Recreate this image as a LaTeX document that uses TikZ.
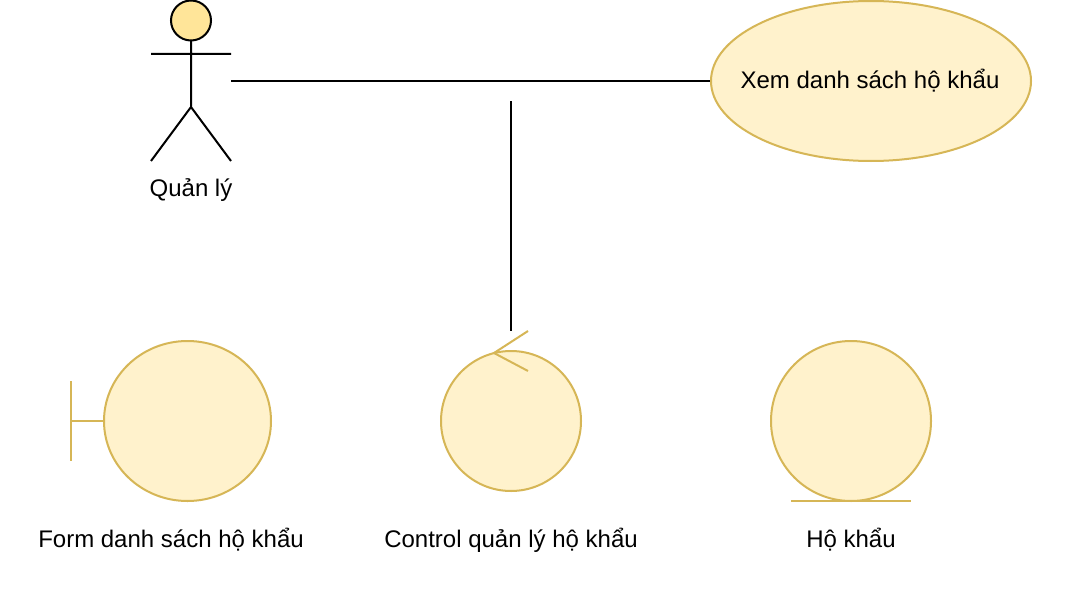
\documentclass[tikz,border=0pt]{standalone}
\usetikzlibrary{shapes.geometric}
\usepackage{fontspec}
\setmainfont{Liberation Sans}
\definecolor{ufill}{HTML}{FFF2CC}
\definecolor{uline}{HTML}{D6B656}
\definecolor{afill}{HTML}{FFE599}
\tikzset{x=0.75pt,y=-0.75pt,
 shapeln/.style={draw=uline,fill=ufill,line width=1.5pt},
 goldln/.style={draw=uline,line width=1.5pt},
 blackln/.style={draw=black,line width=1.5pt},
 lbl/.style={font=\fontsize{18pt}{21pt}\selectfont,inner sep=0pt,text=black}}
\begin{document}
\begin{tikzpicture}
\useasboundingbox (0,0) rectangle (1070,592);
\fill[white] (0,0) rectangle (1070,592);
% actor
\draw[blackln] (191,40.5) -- (191,107) (151,54) -- (231,54) (151,161) -- (191,107) -- (231,161);
\draw[blackln,fill=afill] (191,20.5) circle[radius=20];
\node[lbl] (actorlbl) at (191,190) {Quản lý};
% use case
\node[shapeln,ellipse,minimum width=240pt,minimum height=120pt,inner sep=0pt] (uc) at (871,81) {};
\node[lbl] (uclbl) at (870,81) {Xem danh sách hộ khẩu};
\coordinate (actorhand) at (231,81);
\draw[blackln] (actorhand) -- (uc.west);
\coordinate (linetop) at (511,101);
\coordinate (linebot) at (511,331);
\draw[blackln] (linetop) -- (linebot);
% boundary
\draw[goldln] (71,381) -- (71,461) (71,421) -- (104,421);
\draw[shapeln] (187.5,421) ellipse[x radius=83.5,y radius=80];
\node[lbl] (l1) at (171,540) {Form danh sách hộ khẩu};
% control
\draw[shapeln] (511,421) circle[radius=70];
\draw[goldln] (528,331) -- (494,353) -- (528,371);
\node[lbl] (l2) at (511,540) {Control quản lý hộ khẩu};
% entity
\draw[shapeln] (851,421) circle[radius=80];
\draw[goldln] (791,501) -- (911,501);
\node[lbl] (l3) at (851,540) {Hộ khẩu};
\end{tikzpicture}
\end{document}
